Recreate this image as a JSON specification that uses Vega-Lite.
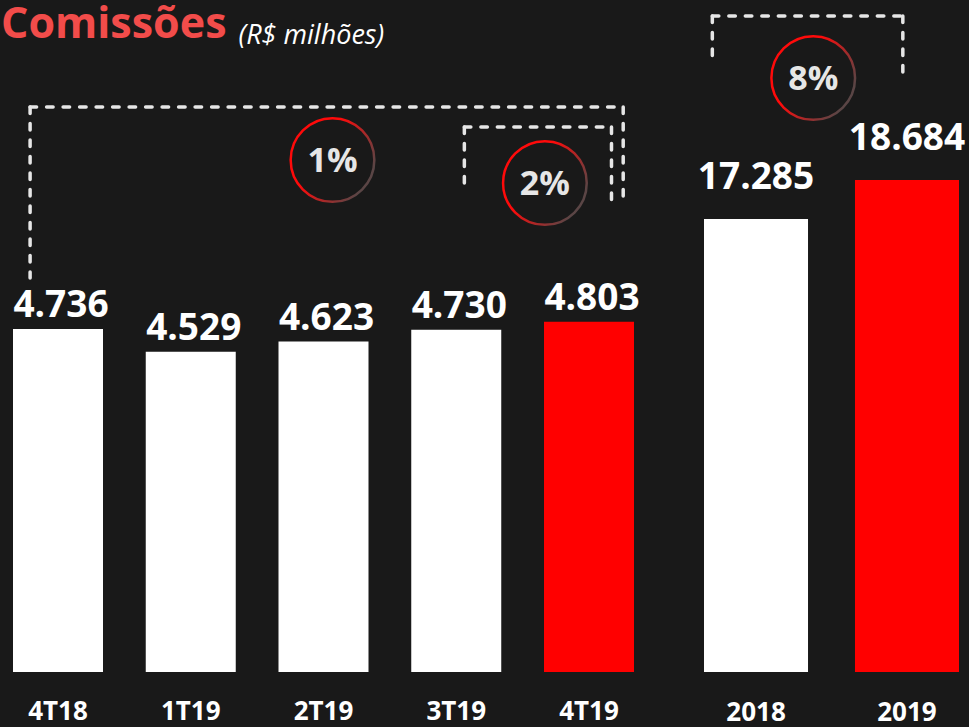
{
  "$schema": "https://vega.github.io/schema/vega-lite/v6.json",
  "width": 969,
  "height": 617,
  "autosize": {"type": "none"},
  "padding": {"top": 55, "bottom": 55, "left": 0, "right": 0},
  "background": "#191919",
  "config": {
    "view": {"stroke": null},
    "font": "Open Sans",
    "locale": {"number": {"decimal": ",", "thousands": ".", "grouping": [3], "currency": ["R$ ", ""]}}
  },
  "title": {
    "text": "Comissões",
    "anchor": "start",
    "font": "Open Sans",
    "fontSize": 43,
    "fontWeight": "bold",
    "color": "#f24c4a",
    "offset": 4,
    "dx": 1,
    "dy": 37
  },
  "datasets": {
    "trimestres": [
      {"periodo": "4T18", "valor": 4736, "tipo": "anterior"},
      {"periodo": "1T19", "valor": 4529, "tipo": "anterior"},
      {"periodo": "2T19", "valor": 4623, "tipo": "anterior"},
      {"periodo": "3T19", "valor": 4730, "tipo": "anterior"},
      {"periodo": "4T19", "valor": 4803, "tipo": "atual"}
    ],
    "anos": [
      {"ano": "2018", "valor": 17285, "tipo": "anterior"},
      {"ano": "2019", "valor": 18684, "tipo": "atual"}
    ],
    "comparacoes": [
      {"comparacao": "4T19 x 4T18", "de": "4T18", "para": "4T19", "variacao": "1%"},
      {"comparacao": "4T19 x 3T19", "de": "3T19", "para": "4T19", "variacao": "2%"},
      {"comparacao": "2019 x 2018", "de": "2018", "para": "2019", "variacao": "8%"}
    ]
  },
  "layer": [
    {
      "data": {"name": "trimestres"},
      "layer": [
        {
          "mark": {"type": "bar", "clip": true},
          "encoding": {
            "x": {"field": "periodo", "type": "nominal", "scale": {"domain": ["4T18", "1T19", "2T19", "3T19", "4T19"], "range": [13, 634], "paddingInner": 0.322, "paddingOuter": 0},
              "axis": {"orient": "bottom", "title": null, "domain": false, "ticks": false, "grid": false, "labelAngle": 0, "labelColor": "#ffffff", "labelFont": "Open Sans", "labelFontSize": 26, "labelFontWeight": "bold", "labelPadding": 26}},
            "y": {"field": "valor", "type": "quantitative", "scale": {"domain": [1616, 7230], "zero": false, "nice": false}, "axis": null},
            "color": {"field": "tipo", "type": "nominal", "scale": {"domain": ["anterior", "atual"], "range": ["#ffffff", "#ff0000"]}, "legend": null}
          }
        },
        {
          "mark": {"type": "text", "font": "Open Sans", "fontSize": 37, "fontWeight": "bold", "color": "#ffffff", "baseline": "alphabetic", "dx": 3, "dy": -12},
          "encoding": {
            "x": {"field": "periodo", "type": "nominal"},
            "y": {"field": "valor", "type": "quantitative", "axis": null},
            "text": {"field": "valor", "type": "quantitative", "format": ",d"}
          }
        },
        {
          "mark": {"type": "text", "text": "(R$ milhões)", "font": "Open Sans", "fontSize": 27, "fontStyle": "italic", "color": "#ffffff", "align": "left", "baseline": "alphabetic"},
          "transform": [{"filter": "datum.periodo === '1T19'"}],
          "encoding": {
            "x": {"datum": "1T19", "type": "nominal", "bandPosition": 1.03},
            "y": {"datum": 7330, "type": "quantitative", "axis": null}
          }
        },
        {
          "data": {"name": "comparacoes"},
          "transform": [{"filter": "datum.comparacao === '4T19 x 4T18'"}],
          "layer": [
            {
              "mark": {"type": "rule", "color": "#e6e6e6", "strokeWidth": 3.5, "strokeDash": [6.5, 10], "strokeCap": "round"},
              "encoding": {
                "x": {"field": "de", "type": "nominal", "bandPosition": 0.19},
                "y": {"datum": 6757, "type": "quantitative", "axis": null},
                "y2": {"datum": 5201}
              }
            },
            {
              "mark": {"type": "rule", "color": "#e6e6e6", "strokeWidth": 3.5, "strokeDash": [6.5, 10], "strokeCap": "round"},
              "encoding": {
                "x": {"field": "de", "type": "nominal", "bandPosition": 0.19},
                "x2": {"field": "para", "bandPosition": 0.88},
                "y": {"datum": 6757, "type": "quantitative", "axis": null}
              }
            },
            {
              "mark": {"type": "rule", "color": "#e6e6e6", "strokeWidth": 3.5, "strokeDash": [6.5, 10], "strokeCap": "round"},
              "encoding": {
                "x": {"field": "para", "type": "nominal", "bandPosition": 0.88},
                "y": {"datum": 6757, "type": "quantitative", "axis": null},
                "y2": {"datum": 5865}
              }
            },
            {
              "mark": {"type": "point", "shape": "circle", "size": 7000, "filled": false, "opacity": 1, "strokeWidth": 2.5,
                "stroke": {"gradient": "linear", "x1": 0, "y1": 0.2, "x2": 1, "y2": 0.8, "stops": [{"offset": 0.35, "color": "#ff0a0a"}, {"offset": 0.9, "color": "#5a4545"}]}},
              "encoding": {
                "x": {"datum": "2T19", "type": "nominal", "bandPosition": 0.6},
                "y": {"datum": 6275, "type": "quantitative", "axis": null}
              }
            },
            {
              "mark": {"type": "text", "font": "Open Sans", "fontSize": 34, "fontWeight": "bold", "color": "#e6e6e6", "align": "center", "baseline": "middle", "dy": 2},
              "encoding": {
                "x": {"datum": "2T19", "type": "nominal", "bandPosition": 0.6},
                "y": {"datum": 6275, "type": "quantitative", "axis": null},
                "text": {"field": "variacao", "type": "nominal"}
              }
            }
          ]
        },
        {
          "data": {"name": "comparacoes"},
          "transform": [{"filter": "datum.comparacao === '4T19 x 3T19'"}],
          "layer": [
            {
              "mark": {"type": "rule", "color": "#e6e6e6", "strokeWidth": 3.5, "strokeDash": [6.5, 10], "strokeCap": "round"},
              "encoding": {
                "x": {"field": "de", "type": "nominal", "bandPosition": 0.59},
                "y": {"datum": 6575, "type": "quantitative", "axis": null},
                "y2": {"datum": 6002}
              }
            },
            {
              "mark": {"type": "rule", "color": "#e6e6e6", "strokeWidth": 3.5, "strokeDash": [6.5, 10], "strokeCap": "round"},
              "encoding": {
                "x": {"field": "de", "type": "nominal", "bandPosition": 0.59},
                "x2": {"field": "para", "bandPosition": 0.75},
                "y": {"datum": 6575, "type": "quantitative", "axis": null}
              }
            },
            {
              "mark": {"type": "rule", "color": "#e6e6e6", "strokeWidth": 3.5, "strokeDash": [6.5, 10], "strokeCap": "round"},
              "encoding": {
                "x": {"field": "para", "type": "nominal", "bandPosition": 0.75},
                "y": {"datum": 6575, "type": "quantitative", "axis": null},
                "y2": {"datum": 5829}
              }
            },
            {
              "mark": {"type": "point", "shape": "circle", "size": 7000, "filled": false, "opacity": 1, "strokeWidth": 2.5,
                "stroke": {"gradient": "linear", "x1": 0, "y1": 0.2, "x2": 1, "y2": 0.8, "stops": [{"offset": 0.35, "color": "#ff0a0a"}, {"offset": 0.9, "color": "#5a4545"}]}},
              "encoding": {
                "x": {"datum": "4T19", "type": "nominal", "bandPosition": 0.01},
                "y": {"datum": 6065, "type": "quantitative", "axis": null}
              }
            },
            {
              "mark": {"type": "text", "font": "Open Sans", "fontSize": 34, "fontWeight": "bold", "color": "#e6e6e6", "align": "center", "baseline": "middle", "dy": 2},
              "encoding": {
                "x": {"datum": "4T19", "type": "nominal", "bandPosition": 0.01},
                "y": {"datum": 6065, "type": "quantitative", "axis": null},
                "text": {"field": "variacao", "type": "nominal"}
              }
            }
          ]
        }
      ]
    },
    {
      "data": {"name": "anos"},
      "layer": [
        {
          "mark": {"type": "bar", "clip": true},
          "encoding": {
            "x": {"field": "ano", "type": "nominal", "scale": {"domain": ["2018", "2019"], "range": [704, 959], "paddingInner": 0.311, "paddingOuter": 0},
              "axis": {"orient": "bottom", "title": null, "domain": false, "ticks": false, "grid": false, "labelAngle": 0, "labelColor": "#ffffff", "labelFont": "Open Sans", "labelFontSize": 26, "labelFontWeight": "bold", "labelPadding": 27}},
            "y": {"field": "valor", "type": "quantitative", "scale": {"domain": [1037, 23167], "zero": false, "nice": false}, "axis": null},
            "color": {"field": "tipo", "type": "nominal", "legend": null}
          }
        },
        {
          "mark": {"type": "text", "font": "Open Sans", "fontSize": 37, "fontWeight": "bold", "color": "#ffffff", "baseline": "alphabetic", "dy": -30},
          "encoding": {
            "x": {"field": "ano", "type": "nominal"},
            "y": {"field": "valor", "type": "quantitative", "axis": null},
            "text": {"field": "valor", "type": "quantitative", "format": ",d"}
          }
        },
        {
          "data": {"name": "comparacoes"},
          "transform": [{"filter": "datum.comparacao === '2019 x 2018'"}],
          "layer": [
            {
              "mark": {"type": "rule", "color": "#e6e6e6", "strokeWidth": 3.5, "strokeDash": [6.5, 10], "strokeCap": "round"},
              "encoding": {
                "x": {"field": "de", "type": "nominal", "bandPosition": 0.08},
                "y": {"datum": 24566, "type": "quantitative", "axis": null},
                "y2": {"datum": 23024}
              }
            },
            {
              "mark": {"type": "rule", "color": "#e6e6e6", "strokeWidth": 3.5, "strokeDash": [6.5, 10], "strokeCap": "round"},
              "encoding": {
                "x": {"field": "de", "type": "nominal", "bandPosition": 0.08},
                "x2": {"field": "para", "bandPosition": 0.46},
                "y": {"datum": 24566, "type": "quantitative", "axis": null}
              }
            },
            {
              "mark": {"type": "rule", "color": "#e6e6e6", "strokeWidth": 3.5, "strokeDash": [6.5, 10], "strokeCap": "round"},
              "encoding": {
                "x": {"field": "para", "type": "nominal", "bandPosition": 0.46},
                "y": {"datum": 24566, "type": "quantitative", "axis": null},
                "y2": {"datum": 22558}
              }
            },
            {
              "mark": {"type": "point", "shape": "circle", "size": 7000, "filled": false, "opacity": 1, "strokeWidth": 2.5,
                "stroke": {"gradient": "linear", "x1": 0, "y1": 0.2, "x2": 1, "y2": 0.8, "stops": [{"offset": 0.35, "color": "#ff0a0a"}, {"offset": 0.9, "color": "#5a4545"}]}},
              "encoding": {
                "x": {"datum": "2018", "type": "nominal", "bandPosition": 1.05},
                "y": {"datum": 22343, "type": "quantitative", "axis": null}
              }
            },
            {
              "mark": {"type": "text", "font": "Open Sans", "fontSize": 34, "fontWeight": "bold", "color": "#e6e6e6", "align": "center", "baseline": "middle", "dy": 2},
              "encoding": {
                "x": {"datum": "2018", "type": "nominal", "bandPosition": 1.05},
                "y": {"datum": 22343, "type": "quantitative", "axis": null},
                "text": {"field": "variacao", "type": "nominal"}
              }
            }
          ]
        }
      ]
    }
  ],
  "resolve": {"scale": {"x": "independent", "y": "independent"}}
}
